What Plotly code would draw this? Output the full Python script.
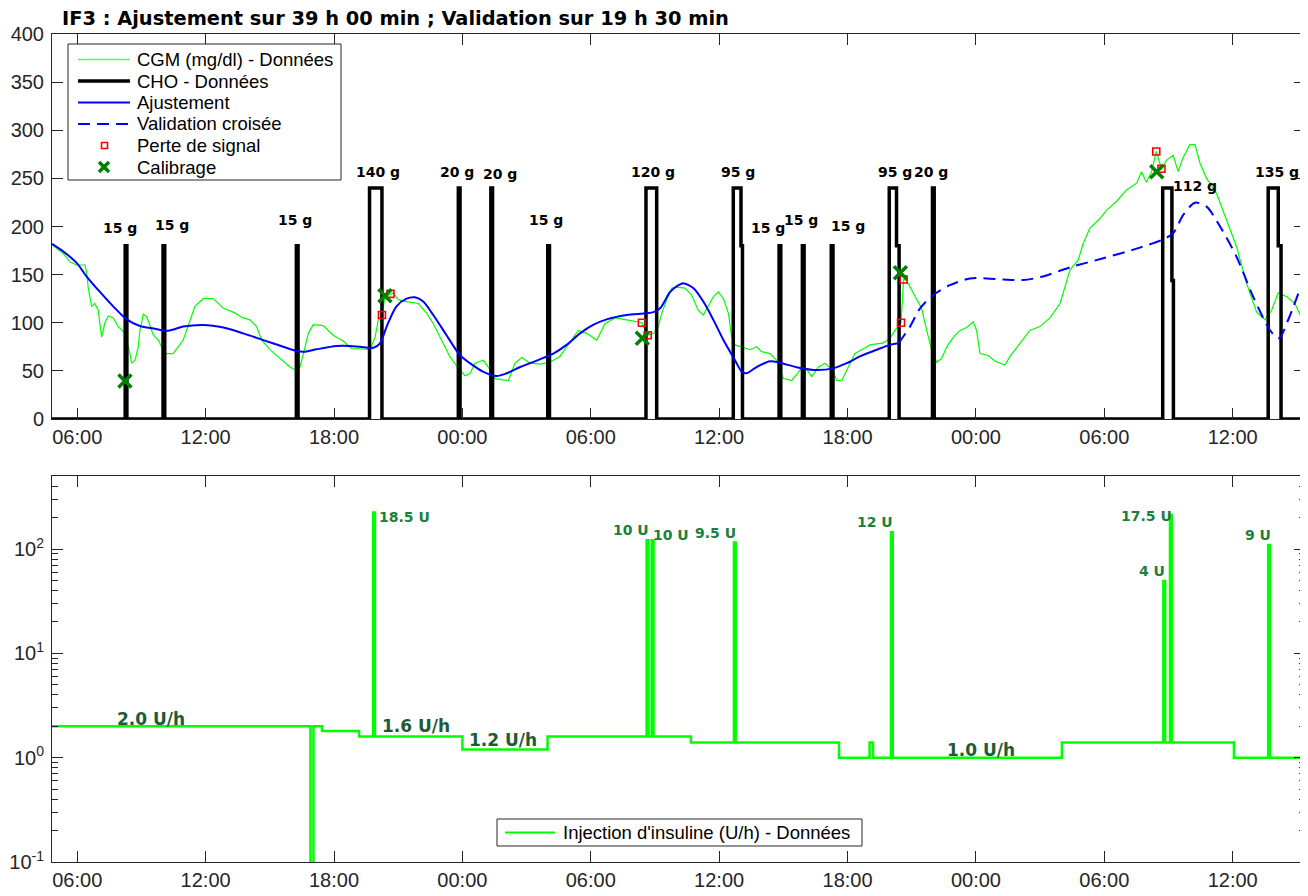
import math
import datetime as dt
import plotly.graph_objects as go

BASE = dt.datetime(2013, 3, 4)


def T(h):
    return BASE + dt.timedelta(hours=h)


# ---------------- data (time in hours from midnight of day 1) ----------------
X_RANGE_H = [4.82, 63.38]

cgm_t = [4.82, 5.35, 5.66, 5.98, 6.36, 6.44, 6.51, 6.67, 6.82, 6.98,
         7.14, 7.29, 7.45, 7.68, 7.92, 8.23, 8.46, 8.54, 8.70, 8.85,
         8.93, 9.09, 9.25, 9.40, 9.56, 9.79, 9.94, 10.17, 10.48, 10.72,
         10.95, 11.11, 11.27, 11.50, 11.89, 12.36, 12.83, 13.29, 13.76, 14.07,
         14.38, 14.62, 15.01, 15.48, 15.94, 16.18, 16.41, 16.65, 16.80, 17.03,
         17.50, 17.96, 18.43, 18.83, 19.22, 19.68, 19.92, 20.07, 20.24, 20.38,
         20.64, 20.77, 21.00, 21.39, 21.94, 22.33, 22.64, 23.03, 23.41, 23.80,
         24.12, 24.35, 24.59, 24.98, 25.21, 25.52, 26.15, 26.46, 26.78, 27.16,
         27.62, 28.09, 28.56, 29.03, 29.42, 29.81, 30.28, 30.66, 31.13, 31.68,
         32.39, 32.66, 32.93, 33.16, 33.32, 33.55, 33.79, 34.02, 34.40, 34.71,
         35.02, 35.26, 35.49, 35.73, 35.96, 36.20, 36.43, 36.59, 36.74, 37.06,
         37.45, 37.75, 37.98, 38.37, 38.69, 39.00, 39.39, 39.62, 39.94, 40.33,
         40.64, 40.95, 41.27, 41.50, 41.73, 42.04, 42.35, 42.74, 43.05, 43.68,
         43.99, 44.22, 44.50, 44.62, 44.76, 45.00, 45.23, 45.46, 45.70, 45.93,
         46.17, 46.40, 46.64, 46.95, 47.26, 47.56, 47.88, 48.03, 48.19, 48.58,
         48.89, 49.36, 49.59, 50.05, 50.52, 50.99, 51.46, 51.93, 52.16, 52.40,
         52.78, 53.01, 53.32, 53.79, 54.11, 54.57, 55.04, 55.51, 55.74, 55.97,
         56.21, 56.43, 56.67, 56.91, 57.22, 57.45, 57.69, 58.00, 58.24, 58.47,
         58.78, 59.25, 59.71, 60.18, 60.65, 61.12, 61.51, 61.82, 62.13, 62.53,
         62.91, 63.30]
cgm_v = [181, 172, 163, 160, 160, 152, 137, 117, 120, 113,
         85, 100, 107, 105, 96, 89, 68, 58, 61, 75,
         92, 109, 106, 96, 87, 82, 75, 68, 68, 75,
         82, 92, 103, 117, 125, 125, 115, 111, 105, 103,
         96, 82, 72, 63, 54, 51, 54, 75, 89, 98,
         97, 87, 81, 73, 73, 72, 85, 103, 108, 127,
         130, 131, 124, 122, 120, 110, 99, 82, 65, 53,
         45, 47, 58, 61, 54, 42, 40, 58, 64, 58,
         57, 59, 65, 80, 92, 89, 82, 99, 105, 103,
         100, 87, 89, 96, 110, 124, 136, 137, 136, 129,
         113, 108, 117, 127, 132, 125, 110, 85, 77, 75,
         72, 75, 70, 68, 61, 42, 40, 46, 56, 44,
         54, 58, 51, 40, 40, 54, 68, 73, 77, 79,
         84, 92, 100, 145, 144, 134, 124, 115, 92, 72,
         59, 63, 75, 85, 92, 95, 101, 92, 68, 66,
         60, 56, 65, 78, 92, 96, 105, 120, 137, 155,
         165, 182, 198, 208, 217, 226, 238, 245, 257, 246,
         257, 278, 260, 269, 274, 257, 272, 285, 285, 266,
         250, 234, 207, 179, 141, 111, 103, 113, 131, 127,
         120, 101]

fit_t = [4.82, 5.35, 5.98, 6.44, 7.06, 7.68, 8.31, 8.93, 9.56, 10.25,
         10.95, 11.89, 12.83, 13.76, 14.69, 15.63, 16.26, 16.65, 17.19, 18.12,
         18.75, 19.22, 19.84, 20.15, 20.46, 20.92, 21.39, 21.78, 22.17, 22.64,
         23.26, 23.88, 24.35, 24.98, 25.60, 26.07, 26.70, 27.62, 28.25, 28.87,
         29.50, 30.11, 30.74, 31.68, 32.93, 33.24, 33.71, 34.10, 34.32, 34.79,
         35.26, 35.73, 36.20, 36.74, 37.06, 37.28, 37.75, 38.37, 38.84, 39.62,
         40.40, 41.33, 41.96, 42.58, 43.37, 43.99, 44.38]
fit_v = [182, 174, 162, 148, 132, 117, 103.5, 96.6, 94, 91.7,
         96, 97.7, 95, 89, 82, 75, 70.6, 70, 72.4, 75.8,
         75.8, 75, 74, 78.6, 96, 117, 125, 126.4, 122, 108,
         87, 66.5, 58, 49, 44.7, 47.5, 54, 62, 68, 77,
         89, 97.7, 103.5, 108, 111, 115, 132, 139, 141, 136,
         122, 103, 82, 61, 49, 47.5, 54, 60, 58.5, 53.7,
         51, 52.6, 58, 65, 72, 77, 78.6]

val_t = [44.38, 44.92, 45.39, 46.01, 46.78, 47.72, 48.50, 49.28, 50.21, 51.13,
         52.40, 53.95, 55.51, 56.75, 57.22, 57.69, 58.24, 58.78, 59.41, 60.18,
         60.96, 61.74, 62.15, 62.65, 63.38]
val_v = [78.6, 96, 115, 129, 139, 146, 146, 145, 144.4, 148,
         157.6, 167, 177, 186.7, 193, 212, 224.7, 220.6, 200, 168.6,
         127, 92.5, 83.8, 106, 150]

loss_t = [20.24, 20.64, 32.39, 32.66, 44.50, 44.62, 56.43, 56.67]
loss_v = [108, 130, 100, 87, 100, 145, 278, 260]

calib_t = [8.23, 20.38, 32.41, 44.47, 56.45]
calib_v = [39.5, 128, 84, 152, 257]

# meals: start, grams, first level / duration, second level / duration
meal_t = [8.24, 10.01, 16.24, 19.66, 23.81, 25.33, 27.99, 32.58,
          36.66, 38.80, 39.89, 41.24, 43.95, 45.97, 56.73, 61.66]
meal_g = [15, 15, 15, 140, 20, 20, 15, 120, 95, 15, 15, 15, 95, 20, 112, 135]
meal_h1 = [180, 180, 180, 240, 240, 240, 180, 240, 240, 180, 180, 180, 240, 240, 240, 240]
meal_d1 = [0.08, 0.08, 0.08, 0.58, 0.08, 0.08, 0.08, 0.50, 0.36, 0.08, 0.08, 0.08, 0.34, 0.08, 0.43, 0.47]
meal_h2 = [0, 0, 0, 0, 0, 0, 0, 0, 180, 0, 0, 0, 180, 0, 144, 180]
meal_d2 = [0, 0, 0, 0, 0, 0, 0, 0, 0.07, 0, 0, 0, 0.12, 0, 0.07, 0.13]

# insulin: basal rate changes (U/h) and boluses (U, delivered over 5 min)
basal_t = [4.82, 16.90, 17.04, 17.44, 19.17, 24.00, 27.98, 34.68, 41.60, 43.03, 43.19, 52.02, 60.06]
basal_r = [2.0, 0.0, 2.0, 1.8, 1.6, 1.2, 1.6, 1.4, 1.0, 1.4, 1.0, 1.4, 1.0]
bolus_t = [19.83, 32.61, 32.85, 36.69, 44.03, 56.76, 57.07, 61.66]
bolus_u = [18.5, 10, 10, 9.5, 12, 4, 17.5, 9]
BOLUS_MIN = 5

basal_label_text = ["2.0 U/h", "1.6 U/h", "1.2 U/h", "1.0 U/h"]

# ---------------- label placement (layout, not data) ----------------
meal_label_t = [7.98, 10.45, 16.17, 20.07, 23.75, 25.78, 27.90, 32.91,
                36.88, 38.29, 39.83, 42.03, 44.22, 45.89, 58.25, 62.05]
meal_label_y = [198, 202, 207, 257, 257, 255, 207, 257, 257, 198, 207, 200, 257, 257, 242, 257]
bolus_label_t = [21.30, 31.86, 33.74, 35.82, 43.28, 56.21, 55.98, 61.16]
bolus_label_y = [204.6, 152, 136, 143.5, 182, 61.4, 207.5, 136]
basal_label_t = [9.44, 21.81, 25.91, 48.26]
basal_label_y = [2.34, 2.03, 1.48, 1.19]

# ---------------- build step series ----------------
cho_x, cho_y = [X_RANGE_H[0]], [0]
for t, h1, d1, h2, d2 in zip(meal_t, meal_h1, meal_d1, meal_h2, meal_d2):
    cho_x += [t, t, t + d1]
    cho_y += [0, h1, h1]
    end = t + d1
    if d2 > 0:
        cho_x += [end, end + d2]
        cho_y += [h2, h2]
        end = end + d2
    cho_x.append(end)
    cho_y.append(0)
cho_x.append(X_RANGE_H[1])
cho_y.append(0)

bolus_h = BOLUS_MIN / 60.0
bounds = sorted(set(basal_t + bolus_t + [b + bolus_h for b in bolus_t] + [X_RANGE_H[1]]))


def basal_at(t):
    r = basal_r[0]
    for bt, br in zip(basal_t, basal_r):
        if bt <= t + 1e-9:
            r = br
    return r


ins_y = []
for b in bounds:
    r = basal_at(b)
    for bt, u in zip(bolus_t, bolus_u):
        if bt - 1e-9 <= b < bt + bolus_h - 1e-9:
            r += u * 60.0 / BOLUS_MIN
    ins_y.append(r if r > 0 else 1e-3)

# ---------------- figure ----------------
W, H = 1308, 896
OFF = 8  # page body margin


def PX(px):
    return (px - OFF) / W


def PY(py):
    return 1 - (py - OFF) / H


REG = "Liberation Sans, Arial, sans-serif"
BOLD = "DejaVu Sans, sans-serif"
AX = "#262626"
CGM_C, FIT_C, LOSS_C, CAL_C = "#00ff00", "#0000ff", "#ff0000", "#008000"

fig = go.Figure()
fig.add_trace(go.Scatter(x=[T(h) for h in cgm_t], y=cgm_v, mode="lines",
                         name="CGM (mg/dl) - Données",
                         line=dict(color=CGM_C, width=1.2), xaxis="x", yaxis="y"))
fig.add_trace(go.Scatter(x=[T(h) for h in cho_x], y=cho_y, mode="lines",
                         name="CHO - Données",
                         line=dict(color="black", width=3.5), xaxis="x", yaxis="y"))
fig.add_trace(go.Scatter(x=[T(h) for h in fit_t], y=fit_v, mode="lines",
                         name="Ajustement", line_shape="spline",
                         line=dict(color=FIT_C, width=2, smoothing=0.8), xaxis="x", yaxis="y"))
fig.add_trace(go.Scatter(x=[T(h) for h in val_t], y=val_v, mode="lines",
                         name="Validation croisée", line_shape="spline",
                         line=dict(color=FIT_C, width=2, dash="12px,7px", smoothing=0.8),
                         xaxis="x", yaxis="y"))
fig.add_trace(go.Scatter(x=[T(h) for h in loss_t], y=loss_v, mode="markers",
                         name="Perte de signal",
                         marker=dict(symbol="square-open", color=LOSS_C, size=7,
                                     line=dict(width=1.6, color=LOSS_C)),
                         xaxis="x", yaxis="y"))
fig.add_trace(go.Scatter(x=[T(h) for h in calib_t], y=calib_v, mode="markers",
                         name="Calibrage",
                         marker=dict(symbol="x-thin", color=CAL_C, size=13,
                                     line=dict(width=3.5, color=CAL_C)),
                         xaxis="x", yaxis="y"))
fig.add_trace(go.Scatter(x=[T(h) for h in bounds], y=ins_y, mode="lines", line_shape="hv",
                         name="Injection d'insuline (U/h) - Données",
                         line=dict(color=CGM_C, width=2.5), xaxis="x2", yaxis="y2"))

annotations = []
shapes = []
for g, lt, ly in zip(meal_g, meal_label_t, meal_label_y):
    annotations.append(dict(x=T(lt), y=ly, xref="x", yref="y", text=f"<b>{g} g</b>",
                            showarrow=False, xanchor="center", yanchor="middle",
                            font=dict(family=BOLD, size=14, color="black")))
for u, lt, ly in zip(bolus_u, bolus_label_t, bolus_label_y):
    txt = f"{u:g} U"
    annotations.append(dict(x=T(lt), y=math.log10(ly), xref="x2", yref="y2",
                            text=f"<b>{txt}</b>", showarrow=False,
                            xanchor="center", yanchor="middle",
                            font=dict(family=BOLD, size=14, color="#1b7f3e")))
for txt, lt, ly in zip(basal_label_text, basal_label_t, basal_label_y):
    annotations.append(dict(x=T(lt), y=math.log10(ly), xref="x2", yref="y2",
                            text=f"<b>{txt}</b>", showarrow=False,
                            xanchor="center", yanchor="middle",
                            font=dict(family=BOLD, size=17, color="#1f5a38")))

# ---------------- legends (drawn as a MATLAB-style box) ----------------
LEG_FONT = dict(family=REG, size=18.5, color="black")


def legend_box(x0, y0, x1, y1):
    shapes.append(dict(type="rect", xref="paper", yref="paper",
                       x0=PX(x0), x1=PX(x1), y0=PY(y0), y1=PY(y1),
                       line=dict(color=AX, width=1), fillcolor="white", layer="above"))


def legend_line(x0, x1, y, color, width, dash="solid"):
    shapes.append(dict(type="line", xref="paper", yref="paper",
                       x0=PX(x0), x1=PX(x1), y0=PY(y), y1=PY(y),
                       line=dict(color=color, width=width, dash=dash), layer="above"))


def legend_text(x, y, text):
    annotations.append(dict(x=PX(x), y=PY(y), xref="paper", yref="paper", text=text,
                            showarrow=False, xanchor="left", yanchor="middle",
                            font=LEG_FONT))


legend_box(68, 44, 341, 180)
rows = [59.5, 81, 102.5, 124, 145.5, 167]
legend_line(78, 130, rows[0], "#55ff55", 1.6)
legend_text(135, rows[0], "CGM (mg/dl) - Données")
legend_line(78, 130, rows[1], "black", 3.5)
legend_text(135, rows[1], "CHO - Données")
legend_line(78, 130, rows[2], FIT_C, 1.8)
legend_text(135, rows[2], "Ajustement")
legend_line(78, 130, rows[3], FIT_C, 1.8, dash="12px,7px")
legend_text(135, rows[3], "Validation croisée")
shapes.append(dict(type="rect", xref="paper", yref="paper",
                   x0=PX(101.5), x1=PX(107.5), y0=PY(rows[4] + 3), y1=PY(rows[4] - 3),
                   line=dict(color=LOSS_C, width=1.6), layer="above"))
legend_text(135, rows[4], "Perte de signal")
for dy in (-1, 1):
    shapes.append(dict(type="line", xref="paper", yref="paper",
                       x0=PX(99), x1=PX(109), y0=PY(rows[5] - 5 * dy), y1=PY(rows[5] + 5 * dy),
                       line=dict(color=CAL_C, width=3.5), layer="above"))
legend_text(135, rows[5], "Calibrage")

legend_box(497, 819, 862, 846)
legend_line(505, 555, 832.5, CGM_C, 2)
legend_text(561, 832.5, "Injection d'insuline (U/h) - Données")

# ---------------- axes ----------------
axis_common = dict(showline=True, linecolor=AX, linewidth=1, mirror="ticks",
                   ticks="inside", ticklen=11, tickcolor=AX, tickwidth=1,
                   showgrid=False, zeroline=False,
                   tickfont=dict(family=REG, size=20, color=AX))
xdom = [PX(52), PX(1305)]
xcommon = dict(type="date", range=[T(X_RANGE_H[0]), T(X_RANGE_H[1])], tick0=T(0),
               dtick=6 * 3600 * 1000, tickformat="%H:%M", domain=xdom,
               ticklabelstandoff=0)

minor_vals = [k * 10 ** e for e in range(-1, 3) for k in range(2, 10) if k * 10 ** e <= 500]

fig.update_layout(
    width=W, height=H,
    paper_bgcolor="white", plot_bgcolor="white",
    margin=dict(l=0, r=0, t=0, b=0, autoexpand=False),
    showlegend=False,
    title=dict(text="<b>IF3 : Ajustement sur 39 h 00 min ; Validation sur 19 h 30 min</b>",
               x=PX(62), xanchor="left", xref="paper", y=PY(18), yanchor="middle",
               yref="paper", font=dict(family=BOLD, size=19.4, color="black")),
    xaxis=dict(**axis_common, **xcommon, anchor="y"),
    yaxis=dict(**axis_common, range=[0, 400], dtick=50, anchor="x",
               domain=[PY(419), PY(34)], ticklabelstandoff=3),
    xaxis2=dict(**axis_common, **xcommon, anchor="y2"),
    yaxis2=dict(**axis_common, type="log", range=[-1, 2.7], anchor="x2",
                domain=[PY(862), PY(476)], ticklabelstandoff=3,
                tickmode="array", tickvals=[0.1, 1, 10, 100],
                ticktext=["10<sup>-1</sup>", "10<sup>0</sup>", "10<sup>1</sup>", "10<sup>2</sup>"],
                minor=dict(ticks="inside", ticklen=6, tickcolor=AX, tickmode="array",
                           tickvals=minor_vals, showgrid=False)),
    annotations=annotations,
    shapes=shapes,
)

fig.write_html("out.html")
